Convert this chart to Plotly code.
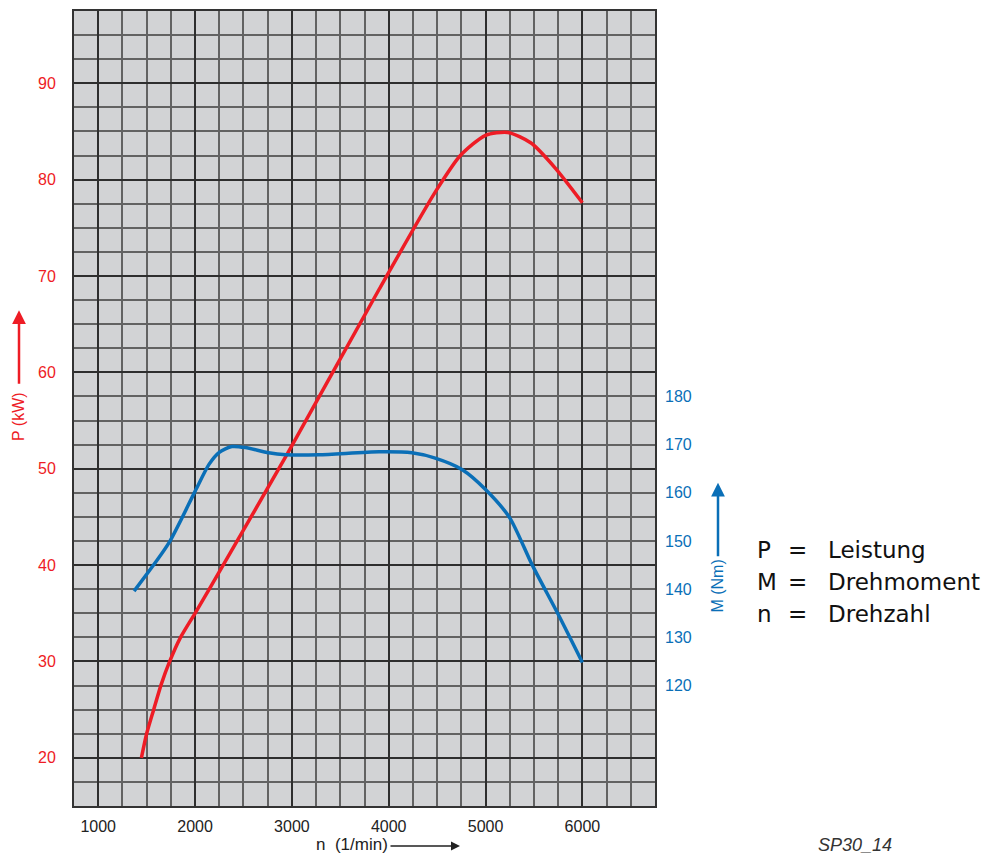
import plotly.graph_objects as go

# Data
power_rpm = [1446, 1500, 1573, 1650, 1738, 1845, 2000, 2153, 2950, 3900, 4480, 4740, 5000, 5230, 5470, 5720, 6000]
power_kw = [20.0, 22.5, 25.0, 27.6, 30.0, 32.4, 35.0, 37.6, 51.5, 68.6, 78.7, 82.5, 84.6, 84.9, 83.8, 81.2, 77.6]

torque_rpm = [1370, 1730, 2000, 2144, 2250, 2380, 2520, 2760, 2940, 3280, 3900, 4240, 4480, 4760, 5000, 5250, 5480, 5750, 6000]
torque_nm = [139.6, 149.6, 160.3, 165.9, 168.4, 169.6, 169.4, 168.3, 167.9, 167.9, 168.5, 168.3, 167.2, 164.8, 160.7, 154.8, 145.1, 134.8, 124.8]

x_ticks = [1000, 2000, 3000, 4000, 5000, 6000]
p_ticks = [20, 30, 40, 50, 60, 70, 80, 90]
m_ticks = [120, 130, 140, 150, 160, 170, 180]

legend_rows = [("P", "Leistung"), ("M", "Drehmoment"), ("n", "Drehzahl")]

RED = "#ee1c25"
BLUE = "#0a6fb7"
FONT = "Liberation Sans, Arial, sans-serif"
LEGFONT = "DejaVu Sans, sans-serif"

fig = go.Figure()
fig.add_trace(go.Scatter(x=power_rpm, y=power_kw, mode="lines",
                         line=dict(color=RED, width=3.5, shape="spline", smoothing=0.7),
                         hoverinfo="skip", showlegend=False))
fig.add_trace(go.Scatter(x=torque_rpm, y=torque_nm, mode="lines", yaxis="y2",
                         line=dict(color=BLUE, width=3.5, shape="spline", smoothing=0.7),
                         hoverinfo="skip", showlegend=False))

# page body has an 8px margin; all layout numbers are screenshot pixels minus that offset
OFF = 8
W, H = 997 - OFF, 857 - OFF
L = 74 - OFF
T = 9 - OFF
Rgt = 655 - OFF
Bot = 806 - OFF
pw, ph = Rgt - L, Bot - T

def px(xs):
    return (xs - OFF - L) / pw

def py(ys):
    return (Bot - (ys - OFF)) / ph

fig.update_layout(
    width=W, height=H,
    margin=dict(l=L, r=W - Rgt, t=T, b=H - Bot),
    paper_bgcolor="white",
    plot_bgcolor="#d2d3d5",
    font=dict(family=FONT, size=16, color="#222"),
    xaxis=dict(range=[750, 6750], tickmode="array", tickvals=x_ticks,
               ticktext=[str(v) for v in x_ticks],
               showgrid=True, gridcolor="#2e2e2e", gridwidth=1.6,
               minor=dict(tick0=750, dtick=250, showgrid=True, gridcolor="#626262", gridwidth=1.6),
               showline=True, linecolor="#333", linewidth=2, mirror=True,
               ticks="", ticklabelstandoff=5, zeroline=False,
               tickfont=dict(color="#222", size=16)),
    yaxis=dict(range=[15, 97.5], tickmode="array", tickvals=p_ticks,
               showgrid=True, gridcolor="#2e2e2e", gridwidth=1.6,
               minor=dict(tick0=15, dtick=2.5, showgrid=True, gridcolor="#626262", gridwidth=1.6),
               showline=True, linecolor="#333", linewidth=2, mirror=True,
               ticks="", ticklabelstandoff=13, zeroline=False,
               tickfont=dict(color=RED, size=16)),
    yaxis2=dict(range=[95, 260], overlaying="y", side="right", tickmode="array",
                tickvals=m_ticks, showgrid=False, zeroline=False, ticks="",
                ticklabelstandoff=9, tickfont=dict(color=BLUE, size=16)),
)

ann = []
# Left axis title and arrow
ann.append(dict(xref="paper", yref="paper", x=px(19), y=py(416), text="P (kW)",
                xanchor="center", yanchor="middle",
                textangle=-90, showarrow=False, font=dict(color=RED, size=16, family=FONT)))
ann.append(dict(xref="paper", yref="paper", x=px(19), y=py(309), ax=0, ay=75,
                showarrow=True, arrowhead=2, arrowsize=1.1, arrowwidth=2.5, arrowcolor=RED, text=""))
# Right axis title and arrow
ann.append(dict(xref="paper", yref="paper", x=px(718), y=py(586), text="M (Nm)",
                xanchor="center", yanchor="middle",
                textangle=-90, showarrow=False, font=dict(color=BLUE, size=16, family=FONT)))
ann.append(dict(xref="paper", yref="paper", x=px(718), y=py(482), ax=0, ay=75,
                showarrow=True, arrowhead=2, arrowsize=1.1, arrowwidth=2.5, arrowcolor=BLUE, text=""))
# X axis title with arrow
ann.append(dict(xref="paper", yref="paper", x=px(314), y=py(845), xanchor="left", yanchor="middle",
                text="n  (1/min)", showarrow=False, font=dict(color="#222", size=17, family=FONT)))
ann.append(dict(xref="paper", yref="paper", x=px(460), y=py(846), ax=-71, ay=0,
                showarrow=True, arrowhead=2, arrowsize=1.2, arrowwidth=1.5, arrowcolor="#222", text=""))
# Explanation legend
for i, (sym, word) in enumerate(legend_rows):
    yc = py(549 + i * 32.5)
    ann.append(dict(xref="paper", yref="paper", x=px(755), y=yc, xanchor="left", yanchor="middle",
                    text=sym, showarrow=False, font=dict(size=23, color="#111", family=LEGFONT)))
    ann.append(dict(xref="paper", yref="paper", x=px(797), y=yc, xanchor="center", yanchor="middle",
                    text="=", showarrow=False, font=dict(size=23, color="#111", family=LEGFONT)))
    ann.append(dict(xref="paper", yref="paper", x=px(826), y=yc, xanchor="left", yanchor="middle",
                    text=word, showarrow=False, font=dict(size=23, color="#111", family=LEGFONT)))
# Figure code
ann.append(dict(xref="paper", yref="paper", x=px(816), y=py(845), xanchor="left", yanchor="middle",
                text="<i>SP30_14</i>", showarrow=False, font=dict(size=18, color="#333", family=FONT)))

fig.update_layout(annotations=ann)
fig.write_html("out.html")
